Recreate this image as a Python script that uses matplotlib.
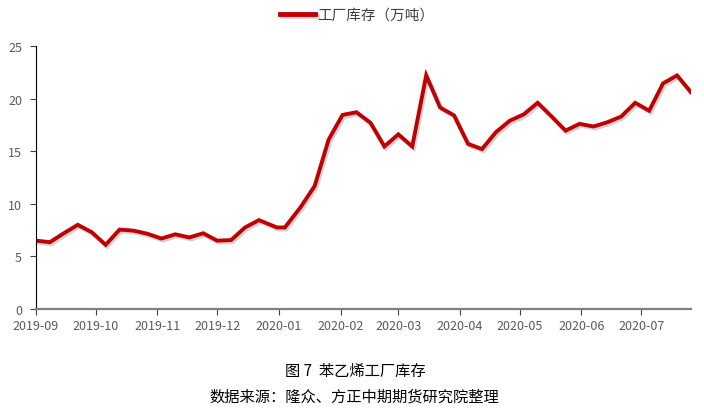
import numpy as np
import pandas as pd
import matplotlib
matplotlib.use('Agg')
import matplotlib.pyplot as plt
import matplotlib.dates as mdates
import matplotlib.patheffects as pe

plt.rcParams['font.family'] = ['Noto Sans CJK SC', 'DejaVu Sans']

# 苯乙烯工厂库存 (万吨), 周度
dates = ['2019-09-01', '2019-09-08', '2019-09-15', '2019-09-22', '2019-09-29',
         '2019-10-06', '2019-10-13', '2019-10-20', '2019-10-27', '2019-11-03',
         '2019-11-10', '2019-11-17', '2019-11-24', '2019-12-01', '2019-12-08',
         '2019-12-15', '2019-12-22', '2019-12-31', '2020-01-04', '2020-01-12',
         '2020-01-19', '2020-01-26', '2020-02-02', '2020-02-09', '2020-02-16',
         '2020-02-23', '2020-03-01', '2020-03-08', '2020-03-15', '2020-03-22',
         '2020-03-29', '2020-04-05', '2020-04-12', '2020-04-19', '2020-04-26',
         '2020-05-03', '2020-05-10', '2020-05-17', '2020-05-24', '2020-05-31',
         '2020-06-07', '2020-06-14', '2020-06-21', '2020-06-28', '2020-07-05',
         '2020-07-12', '2020-07-19', '2020-07-26']
stock = [6.5, 6.35, 7.2, 8.0, 7.3,
         6.1, 7.55, 7.45, 7.15, 6.7,
         7.1, 6.8, 7.2, 6.5, 6.55,
         7.75, 8.45, 7.75, 7.75, 9.7,
         11.7, 16.1, 18.45, 18.7, 17.7,
         15.45, 16.6, 15.45, 22.2, 19.15,
         18.4, 15.7, 15.2, 16.8, 17.9,
         18.5, 19.6, 18.3, 16.95, 17.6,
         17.35, 17.75, 18.3, 19.6, 18.85,
         21.45, 22.2, 20.6]
yticks = [0, 5, 10, 15, 20, 25]

x = pd.to_datetime(dates)

fig = plt.figure(figsize=(7.04, 4.10), dpi=100)
ax = fig.add_axes([0.0511, 0.2439, 0.9304, 0.6415])

ax.plot(x, stock, color='#C00000', linewidth=2.8, solid_joinstyle='miter',
        label='工厂库存（万吨）',
        path_effects=[pe.SimpleLineShadow(offset=(1.2, -1.5), shadow_color='#808080', alpha=0.35),
                      pe.Normal()])

ax.set_xlim(x[0], x[-1])
ax.set_ylim(0, 25)
ax.set_yticks(yticks)
ax.xaxis.set_major_locator(mdates.MonthLocator())
ax.xaxis.set_major_formatter(mdates.DateFormatter('%Y-%m'))

for s in ['top', 'right']:
    ax.spines[s].set_visible(False)
ax.spines['left'].set_color('black')
ax.spines['left'].set_linewidth(0.8)
ax.spines['bottom'].set_color('#808080')
ax.spines['bottom'].set_linewidth(1.6)

ax.tick_params(axis='y', direction='out', length=4, width=0.8, color='#404040',
               labelsize=9, labelcolor='#595959', pad=6)
ax.tick_params(axis='x', direction='out', length=4, width=0.8, color='#404040',
               labelsize=9, labelcolor='#595959', pad=3)

leg = fig.legend(loc='center', bbox_to_anchor=(0.507, 0.961), frameon=False,
                 fontsize=10.5, handlelength=2.4, handletextpad=0.15)
for t in leg.get_texts():
    t.set_color('#404040')
for l in leg.get_lines():
    l.set_linewidth(3.5)

fig.text(0.505, 0.093, '图 7  苯乙烯工厂库存', ha='center', va='center', fontsize=11)
fig.text(0.503, 0.032, '数据来源：隆众、方正中期期货研究院整理', ha='center', va='center', fontsize=11)

fig.savefig('out.png', dpi=100)
